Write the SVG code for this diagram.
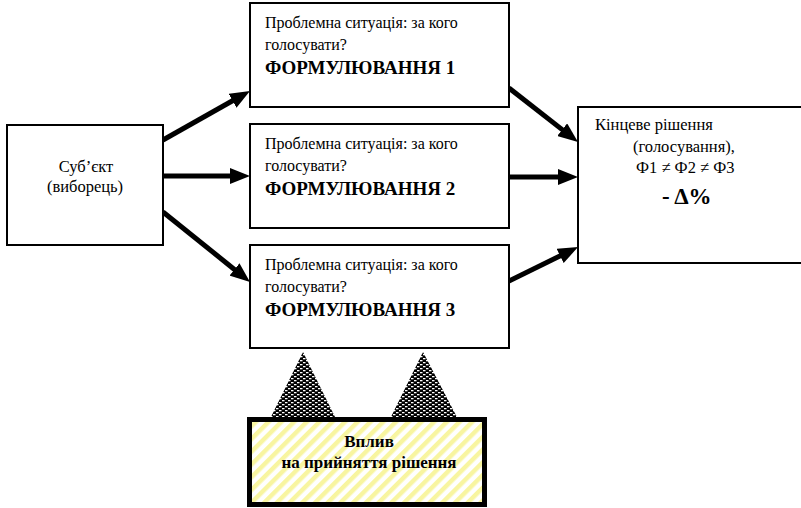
<svg xmlns="http://www.w3.org/2000/svg" width="801" height="508" viewBox="0 0 801 508">
<defs>
<marker id="ah" markerUnits="userSpaceOnUse" markerWidth="20" markerHeight="16" refX="2" refY="8" orient="auto">
<path d="M0,0 L20,8 L0,16 z" fill="#000"/>
</marker>
<pattern id="stripes" patternUnits="userSpaceOnUse" width="9" height="9" patternTransform="rotate(45)">
<rect width="9" height="9" fill="#fff"/>
<rect width="4.5" height="9" fill="#f8f5a0"/>
</pattern>
<pattern id="dots" patternUnits="userSpaceOnUse" width="6" height="4">
<rect width="6" height="4" fill="#000"/>
<rect x="0" y="0" width="2.5" height="1.3" fill="#fff"/>
<rect x="3" y="2" width="2.5" height="1.3" fill="#fff"/>
</pattern>
</defs>

<g id="connectors" stroke="#000" stroke-width="5" fill="none" marker-end="url(#ah)">
<line x1="163" y1="140" x2="234.3" y2="99.8"/>
<line x1="163" y1="176" x2="232" y2="176"/>
<line x1="163" y1="212" x2="236" y2="270.7"/>
<line x1="509" y1="88" x2="563.8" y2="130.9"/>
<line x1="509" y1="177" x2="560" y2="177"/>
<line x1="509" y1="281" x2="561.9" y2="255"/>
</g>
<g id="influence-cones" fill="url(#dots)">
<polygon points="303,352 269,421 337,421"/>
<polygon points="423,352 389,421 459,421"/>
</g>

<g id="subject">
<rect x="7" y="125" width="156" height="120" fill="#fff" stroke="#000" stroke-width="2"/>
<text font-family="Liberation Serif" font-size="16.5" x="86" y="172" text-anchor="middle">Суб’єкт</text>
<text font-family="Liberation Serif" font-size="16.5" x="85" y="192" text-anchor="middle">(виборець)</text>
</g>

<g id="form1">
<rect x="250" y="3" width="259" height="104" fill="#fff" stroke="#000" stroke-width="2"/>
<text font-family="Liberation Serif" font-size="16" x="265" y="28">Проблемна ситуація: за кого</text>
<text font-family="Liberation Serif" font-size="16" x="265" y="50">голосувати?</text>
<text font-family="Liberation Serif" font-size="19" font-weight="bold" x="265" y="74">ФОРМУЛЮВАННЯ 1</text>
</g>

<g id="form2">
<rect x="250" y="124" width="259" height="104" fill="#fff" stroke="#000" stroke-width="2"/>
<text font-family="Liberation Serif" font-size="16" x="265" y="149">Проблемна ситуація: за кого</text>
<text font-family="Liberation Serif" font-size="16" x="265" y="171">голосувати?</text>
<text font-family="Liberation Serif" font-size="19" font-weight="bold" x="265" y="195">ФОРМУЛЮВАННЯ 2</text>
</g>

<g id="form3">
<rect x="250" y="245" width="259" height="103" fill="#fff" stroke="#000" stroke-width="2"/>
<text font-family="Liberation Serif" font-size="16" x="265" y="270">Проблемна ситуація: за кого</text>
<text font-family="Liberation Serif" font-size="16" x="265" y="292">голосувати?</text>
<text font-family="Liberation Serif" font-size="19" font-weight="bold" x="265" y="316">ФОРМУЛЮВАННЯ 3</text>
</g>

<g id="decision">
<rect x="578" y="107" width="240" height="156" fill="#fff" stroke="#000" stroke-width="2"/>
<text font-family="Liberation Serif" font-size="16.5" x="595" y="130">Кінцеве рішення</text>
<text font-family="Liberation Serif" font-size="16.5" x="633" y="152">(голосування),</text>
<text font-family="Liberation Serif" font-size="16.5" x="636" y="173">Ф1 ≠ Ф2 ≠ Ф3</text>
<text font-family="Liberation Serif" font-size="23" font-weight="bold" x="662" y="204">- Δ%</text>
</g>

<g id="influence">
<rect x="249.5" y="419.5" width="235" height="85" fill="url(#stripes)" stroke="#000" stroke-width="5"/>
<text font-family="Liberation Serif" font-size="17" font-weight="bold" x="369" y="447" text-anchor="middle">Вплив</text>
<text font-family="Liberation Serif" font-size="17" font-weight="bold" x="369" y="468" text-anchor="middle">на прийняття рішення</text>
</g>
</svg>
